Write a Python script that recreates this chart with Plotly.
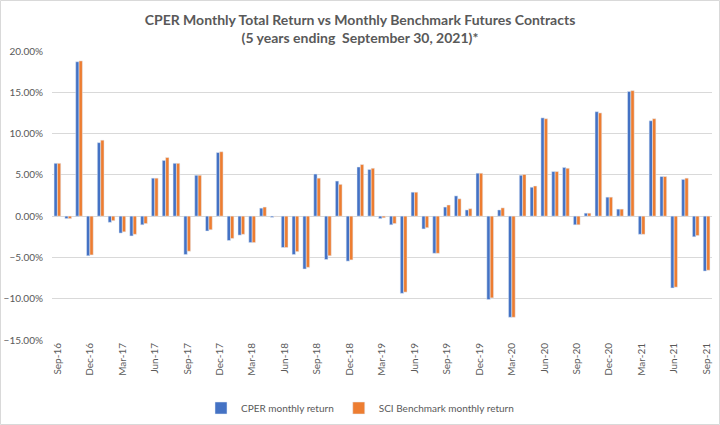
import plotly.graph_objects as go

months = ["Sep-16","Oct-16","Nov-16","Dec-16","Jan-17","Feb-17","Mar-17","Apr-17","May-17","Jun-17",
          "Jul-17","Aug-17","Sep-17","Oct-17","Nov-17","Dec-17","Jan-18","Feb-18","Mar-18","Apr-18",
          "May-18","Jun-18","Jul-18","Aug-18","Sep-18","Oct-18","Nov-18","Dec-18","Jan-19","Feb-19",
          "Mar-19","Apr-19","May-19","Jun-19","Jul-19","Aug-19","Sep-19","Oct-19","Nov-19","Dec-19",
          "Jan-20","Feb-20","Mar-20","Apr-20","May-20","Jun-20","Jul-20","Aug-20","Sep-20","Oct-20",
          "Nov-20","Dec-20","Jan-21","Feb-21","Mar-21","Apr-21","May-21","Jun-21","Jul-21","Aug-21","Sep-21"]

cper = [6.4,-0.3,18.7,-4.8,8.9,-0.75,-2.05,-2.4,-1.05,4.6,
        6.75,6.4,-4.65,4.95,-1.8,7.7,-2.95,-2.3,-3.2,0.97,
        -0.15,-3.8,-4.65,-6.4,5.1,-5.25,4.25,-5.45,5.95,5.65,
        -0.3,-1.05,-9.35,2.9,-1.55,-4.5,1.1,2.45,0.75,5.2,
        -10.1,0.75,-12.25,4.95,3.5,11.9,5.4,5.9,-1.05,0.36,
        12.65,2.3,0.85,15.1,-2.2,11.55,4.8,-8.7,4.45,-2.5,-6.65]

sci = [6.4,-0.3,18.8,-4.7,9.2,-0.55,-1.9,-2.2,-0.9,4.6,
       7.1,6.4,-4.25,4.95,-1.65,7.8,-2.7,-2.2,-3.2,1.1,
       -0.05,-3.8,-4.3,-6.2,4.6,-4.8,3.85,-5.3,6.25,5.8,
       -0.2,-0.9,-9.2,2.9,-1.4,-4.5,1.35,2.1,0.9,5.2,
       -9.9,1.0,-12.25,5.05,3.65,11.8,5.4,5.8,-1.05,0.36,
       12.5,2.3,0.85,15.2,-2.2,11.8,4.8,-8.6,4.6,-2.35,-6.55]

cper_f = [v / 100 for v in cper]
sci_f = [v / 100 for v in sci]

tick_labels = months[::3]
y_ticks = [0.20, 0.15, 0.10, 0.05, 0.0, -0.05, -0.10, -0.15]

gray = "#595959"
font_family = "Lato, 'Open Sans', sans-serif"

fig = go.Figure()
fig.add_trace(go.Bar(x=months, y=cper_f, name="CPER monthly return", marker_color="#4472C4"))
fig.add_trace(go.Bar(x=months, y=sci_f, name="SCI Benchmark monthly return", marker_color="#ED7D31"))

fig.update_layout(
    width=720, height=425,
    margin=dict(l=52, r=8, t=51, b=85),
    paper_bgcolor="white", plot_bgcolor="white",
    barmode="group", bargap=0.38, bargroupgap=0.0,
    font=dict(family=font_family, color=gray, size=10),
    title=dict(
        text="<b>CPER Monthly Total Return vs Monthly Benchmark Futures Contracts</b><br><b>(5 years ending  September 30, 2021)*</b>",
        x=0.5, xanchor="center", xref="container", yref="container",
        y=1 - 25/425, yanchor="middle",
        font=dict(size=14, color=gray, family=font_family),
    ),
    legend=dict(orientation="h", x=0.5, xanchor="center", xref="container", yref="container",
                y=(425 - 408) / 425, yanchor="middle",
                font=dict(size=10, color=gray), itemwidth=30, traceorder="normal"),
    showlegend=True,
    shapes=[dict(type="rect", xref="paper", yref="paper",
                 x0=-51.5/660, x1=1 + 7.5/660, y0=-84.5/289, y1=1 + 50.5/289,
                 line=dict(color="#d9d9d9", width=1), fillcolor="rgba(0,0,0,0)")],
)

fig.update_xaxes(
    type="category", tickmode="array", tickvals=tick_labels, ticktext=tick_labels,
    tickangle=-90, tickfont=dict(size=10, color=gray), showgrid=False,
    showline=False, ticks="", automargin=False,
)
fig.update_yaxes(
    range=[-0.15, 0.20], tickvals=y_ticks, tickformat=".2%",
    tickfont=dict(size=10, color=gray), showgrid=True, gridcolor="#d9d9d9", gridwidth=1,
    zeroline=True, zerolinecolor="#d9d9d9", zerolinewidth=1, showline=False, automargin=False,
    ticklabelstandoff=8,
)

fig.write_html("out.html")
